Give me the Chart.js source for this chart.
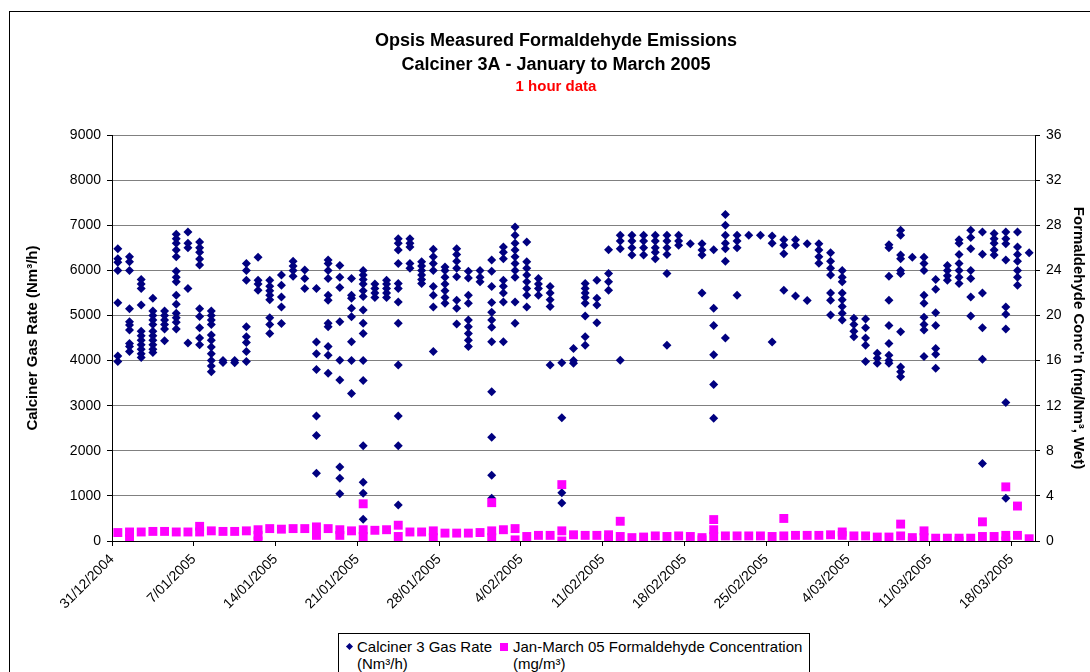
<!doctype html>
<html lang="en">
  <head>
    <meta charset="UTF-8" />
    <title>Opsis Measured Formaldehyde Emissions</title>
    <script src="https://cdn.jsdelivr.net/npm/chart.js"></script>
    <style>
      html, body {
        margin: 0;
        padding: 0;
        background: #fff;
        overflow: hidden;
      }
      #wrap {
        position: relative;
        width: 1090px;
        height: 672px;
        font-family: Arial, 'Liberation Sans', sans-serif;
      }
      #frame {
        position: absolute;
        left: 9px;
        top: 11px;
        width: 1200px;
        height: 800px;
        border: 1px solid #000;
      }
      #chart {
        position: absolute;
        left: 0;
        top: 0;
      }
      .legend {
        position: absolute;
        left: 338px;
        top: 633px;
        width: 470px;
        height: 80px;
        border: 1px solid #000;
        background: #fff;
        font-size: 15px;
        line-height: 17px;
        color: #000;
      }
      .legend-item {
        position: absolute;
        top: 4px;
        white-space: nowrap;
      }
      .mark {
        position: absolute;
      }
      .diamond {
        width: 5px;
        height: 5px;
        background: #000080;
        transform: rotate(45deg);
      }
      .square {
        width: 8px;
        height: 8px;
        background: #ff00ff;
      }
    </style>
  </head>
  <body>
    <div id="wrap">
      <div id="frame"></div>
      <canvas id="chart" width="1090" height="672"></canvas>
      <div class="legend">
        <div class="mark diamond" style="left: 8px; top: 10px"></div>
        <div class="legend-item" style="left: 18px">Calciner 3 Gas Rate<br />(Nm³/h)</div>
        <div class="mark square" style="left: 161px; top: 9px"></div>
        <div class="legend-item" style="left: 174px">Jan-March 05 Formaldehyde Concentration<br />(mg/m³)</div>
      </div>
    </div>

    <script>
      // tick labels on the date axis, one every 7 days from 31/12/2004
      const xTickLabels = [
        '31/12/2004', '7/01/2005', '14/01/2005', '21/01/2005', '28/01/2005', '4/02/2005',
        '11/02/2005', '18/02/2005', '25/02/2005', '4/03/2005', '11/03/2005', '18/03/2005',
      ];
      const tickStepDays = 7;
      const totalDays = 79;

      // hourly gas rate readings (Nm3/h), grouped by day starting 31/12/2004
      const gasRate = [
        [6480, 6260, 6180, 6000, 5280, 4100, 3980],
        [6300, 6190, 6000, 5150, 4860, 4790, 4680, 4380, 4310, 4200],
        [5800, 5700, 5600, 5230, 4650, 4550, 4450, 4350, 4250, 4150, 4070],
        [5380, 5100, 5000, 4900, 4800, 4650, 4550, 4450, 4350, 4250, 4180],
        [5100, 5000, 4900, 4800, 4700, 4440],
        [6800, 6700, 6600, 6450, 6300, 5980, 5850, 5750, 5450, 5250, 5050, 4950, 4850, 4700],
        [6850, 6600, 6500, 5600, 4390],
        [6630, 6500, 6400, 6250, 6120, 5150, 4980, 4730, 4500, 4350],
        [5100, 5000, 4900, 4800, 4570, 4450, 4300, 4150, 4000, 3880, 3750],
        [3960, 4000],
        [3950, 4000],
        [6150, 6000, 5780, 4750, 4530, 4400, 4200, 3980],
        [6290, 5780, 5700, 5560],
        [5780, 5650, 5550, 5450, 5350, 4950, 4800, 4600],
        [5900, 5670, 5410, 5190, 4820],
        [6200, 6100, 6000, 5870],
        [6010, 5820, 5600],
        [5600, 4410, 4150, 3800, 2770, 2340, 1500],
        [6230, 6150, 6000, 5820, 5450, 5340, 4830, 4750, 4310, 4120, 3720],
        [6110, 5850, 5620, 4860, 4010, 3570, 1640, 1390, 1050],
        [5820, 5450, 5380, 5160, 4970, 4420, 4000, 3270],
        [6000, 5900, 5800, 5700, 5550, 5420, 5120, 4830, 4600, 4000, 3560, 2110, 1300, 1060, 480],
        [5700, 5600, 5500, 5400],
        [5780, 5700, 5600, 5500, 5400],
        [6700, 6600, 6450, 6150, 5710, 5600, 5300, 4830, 3900, 2770, 2110, 800],
        [6700, 6600, 6520, 6150, 6050],
        [6190, 6100, 6000, 5900, 5800, 5710],
        [6470, 6300, 6150, 6000, 5640, 5450, 5190, 4200],
        [6075, 6000, 5850, 5700, 5550, 5400, 5270],
        [6480, 6350, 6200, 6050, 5860, 5340, 5160, 4810],
        [5980, 5830, 5450, 5270, 4900, 4750, 4600, 4450, 4310],
        [6000, 5850, 5750],
        [6230, 5980, 5640, 5290, 5070, 4900, 4740, 4420, 3310, 2300, 1460, 950],
        [6520, 6400, 6260, 5780, 5650, 5500, 5300, 4420],
        [6960, 6780, 6600, 6450, 6300, 6150, 6000, 5850, 5300, 4830],
        [6630, 6190, 6050, 5900, 5750, 5600, 5450, 5190],
        [5820, 5700, 5600, 5450],
        [5640, 5500, 5350, 5200, 3900],
        [3950, 2730, 1070, 840],
        [4270, 4000, 3940],
        [5710, 5600, 5500, 5400, 5270, 4990, 4530, 4340],
        [5780, 5380, 5230, 4840],
        [6460, 5930, 5750, 5560],
        [6780, 6650, 6480, 4010],
        [6780, 6650, 6500, 6340],
        [6780, 6650, 6500, 6340],
        [6780, 6650, 6500, 6400, 6260],
        [6780, 6650, 6500, 6350, 5930, 4340],
        [6780, 6650, 6560],
        [6590],
        [6590, 6450, 6340, 5500],
        [6460, 5160, 4780, 4130, 3470, 2720],
        [7240, 7000, 6780, 6600, 6480, 6200, 4500],
        [6780, 6650, 6500, 5450],
        [6780],
        [6780],
        [6760, 6600, 4410],
        [6680, 6560, 6370, 5560],
        [6680, 6560, 5430],
        [6590, 5330],
        [6590, 6450, 6300, 6160],
        [6390, 6200, 6050, 5900, 5500, 5340, 5010],
        [6000, 5850, 5750, 5500, 5350, 5200, 5050, 4900],
        [4940, 4800, 4650, 4530],
        [4920, 4730, 4500, 4340, 3980],
        [4160, 4050, 3940],
        [6570, 6500, 5870, 5340, 4780, 4380, 4120, 4000, 3940],
        [6890, 6780, 6340, 6260, 6000, 5930, 4640, 3860, 3750, 3640],
        [6290],
        [6290, 6150, 6000, 5450, 5270, 4960, 4800, 4680, 4090],
        [5800, 5580, 5060, 4780, 4270, 4140, 3830],
        [6110, 6000, 5880, 5780],
        [6680, 6600, 6350, 6150, 6000, 5850, 5710],
        [6890, 6730, 6480, 6000, 5820, 5410, 4990],
        [6850, 6360, 5500, 4730, 4030, 1720],
        [6820, 6700, 6600, 6450, 6340],
        [6850, 6700, 6590, 6230, 5190, 5030, 4700, 3070, 950],
        [6850, 6520, 6350, 6200, 6000, 5850, 5670],
        [6390],
      ];

      // formaldehyde concentration (mg/m3), grouped by day, same days
      const formaldehyde = [
        [0.75], [0.8, 0.2], [0.8], [0.85], [0.85], [0.8], [0.8], [1.3, 0.8], [0.9], [0.85],
        [0.85], [0.9], [1.0, 0.5, 0.0], [1.1], [1.05], [1.1], [1.1], [1.25, 0.5], [1.1], [1.0, 0.5],
        [0.9], [1.0, 0.4, 3.3], [0.95], [1.0], [1.4, 0.4], [0.8], [0.8], [0.9, 0.3], [0.7], [0.7],
        [0.7], [0.75], [0.9, 0.3, 3.4], [1.0], [1.1, 0.1], [0.4], [0.5], [0.5], [0.9, 0.0, 5.0], [0.55],
        [0.5], [0.5], [0.55, 0.2], [0.4, 1.75], [0.3], [0.35], [0.45], [0.4], [0.45], [0.4],
        [0.3, 0.1], [1.9, 1.0, 0.4], [0.45], [0.45], [0.45], [0.45], [0.4], [0.45, 2.0], [0.5], [0.5],
        [0.5], [0.55], [0.8, 0.5], [0.45], [0.45], [0.35], [0.35], [0.45, 1.5], [0.3, 0.0], [0.9, 0.3],
        [0.25], [0.25], [0.25, 0.0], [0.25], [0.4, 1.7], [0.4], [0.5, 0.0, 4.8], [0.5, 3.1], [0.2],
      ];

      // each day's readings sit in the middle of that day on the date axis
      function toPoints(byDay) {
        const pts = [];
        byDay.forEach((vals, day) => {
          vals.forEach((v) => pts.push({ x: day + 0.5, y: v }));
        });
        return pts;
      }

      const font = 'Arial, "Liberation Sans", sans-serif';
      Chart.defaults.font.family = font;
      Chart.defaults.color = '#000';

      const ctx = document.getElementById('chart').getContext('2d');
      new Chart(ctx, {
        type: 'scatter',
        data: {
          datasets: [
            {
              label: 'Jan-March 05 Formaldehyde Concentration (mg/m³)',
              data: toPoints(formaldehyde),
              yAxisID: 'y2',
              pointStyle: 'rect',
              pointRadius: 6.3,
              backgroundColor: '#ff00ff',
              borderColor: '#ff00ff',
              borderWidth: 0,
              order: 1,
            },
            {
              label: 'Calciner 3 Gas Rate (Nm³/h)',
              data: toPoints(gasRate),
              yAxisID: 'y',
              pointStyle: 'rectRot',
              pointRadius: 4.5,
              backgroundColor: '#000080',
              borderColor: '#000080',
              borderWidth: 0,
              order: 2,
            },
          ],
        },
        options: {
          responsive: false,
          animation: false,
          events: [],
          layout: { padding: { left: 22, right: 0, top: 0, bottom: 0 } },
          plugins: {
            legend: { display: false },
            tooltip: { enabled: false },
            title: {
              display: true,
              text: ['Opsis Measured Formaldehyde Emissions', 'Calciner 3A - January to March 2005'],
              color: '#000',
              font: { size: 18, weight: 'bold', lineHeight: 1.28 },
              padding: { top: 30, bottom: 2 },
            },
            subtitle: {
              display: true,
              text: '1 hour data',
              color: '#ff0000',
              font: { size: 15, weight: 'bold', lineHeight: 1.2 },
              padding: { top: 0, bottom: 39 },
            },
          },
          scales: {
            x: {
              type: 'linear',
              min: 0,
              max: totalDays,
              afterBuildTicks: (scale) => {
                scale.ticks = xTickLabels.map((_, i) => ({ value: i * tickStepDays }));
              },
              afterFit: (scale) => {
                scale.height = 131;
              },
              grid: { drawOnChartArea: false, drawTicks: true, tickLength: 5, tickColor: '#000' },
              border: { display: true, color: '#000', width: 1 },
              ticks: {
                autoSkip: false,
                maxRotation: 45,
                minRotation: 45,
                padding: 5,
                font: { size: 14 },
                callback: (value, index) => xTickLabels[index],
              },
            },
            y: {
              position: 'left',
              min: 0,
              max: 9000,
              afterFit: (scale) => {
                scale.width = 90;
              },
              ticks: { stepSize: 1000, padding: 6, font: { size: 14 }, callback: (v) => String(v) },
              grid: { color: '#808080', lineWidth: 1, tickLength: 5, tickColor: '#000' },
              border: { display: true, color: '#000', width: 1 },
              title: {
                display: true,
                text: 'Calciner Gas Rate (Nm³/h)',
                font: { size: 15, weight: 'bold', lineHeight: 1.2 },
                padding: { top: 2, bottom: 0 },
              },
            },
            y2: {
              position: 'right',
              min: 0,
              max: 36,
              afterFit: (scale) => {
                scale.width = 55;
              },
              ticks: { stepSize: 4, padding: 6, font: { size: 14 } },
              grid: { drawOnChartArea: false, drawTicks: true, tickLength: 5, tickColor: '#000' },
              border: { display: true, color: '#000', width: 1 },
              title: {
                display: true,
                text: "Formaldehyde Conc'n (mg/Nm³, Wet)",
                font: { size: 15, weight: 'bold', lineHeight: 1.2 },
                padding: { top: 3, bottom: 0 },
              },
            },
          },
        },
      });
    </script>
  </body>
</html>
